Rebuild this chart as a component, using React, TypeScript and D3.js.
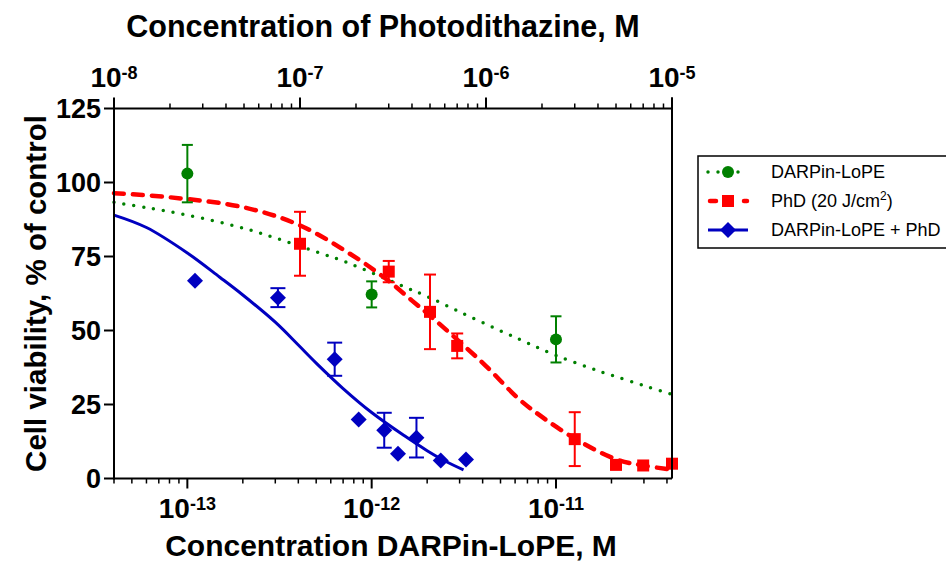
import React from "react";
import * as d3 from "d3";

const W = 946;
const H = 562;
const LEFT = 114;
const RIGHT = 672;
const TOP = 108.5;
const BOTTOM = 478.5;

const FONT = "'Liberation Sans', Arial, Helvetica, sans-serif";

const yTicks = [0, 25, 50, 75, 100, 125];
const topTicks = [1e-8, 1e-7, 1e-6, 1e-5];
const topExp = ["-8", "-7", "-6", "-5"];
const bottomTicks = [1e-13, 1e-12, 1e-11];
const bottomExp = ["-13", "-12", "-11"];

// DARPin-LoPE alone (bottom axis, M)
const lopeConc = [1e-13, 1e-12, 1e-11];
const lopeMean = [103, 62.2, 47];
const lopeErr = [9.7, 4.4, 7.8];

// Photodithazine alone (top axis, M)
const phdConc = [1e-7, 3e-7, 5e-7, 7e-7, 3e-6, 5e-6, 7e-6, 1e-5];
const phdMean = [79.3, 69.9, 56.3, 44.8, 13.3, 4.6, 4.4, 5.0];
const phdErr = [10.8, 3.6, 12.6, 4.2, 9.1, 0, 0, 0];

// DARPin-LoPE + PhD (bottom axis, M)
const comboConc = [1.1e-13, 3.1e-13, 6.3e-13, 8.5e-13, 1.17e-12, 1.39e-12, 1.75e-12, 2.37e-12, 3.25e-12];
const comboMean = [66.8, 61.1, 40.3, 19.9, 16.3, 8.4, 13.8, 6.1, 6.4];
const comboErr = [0, 3.2, 5.6, 0, 5.9, 0, 6.7, 0, 0];

// fitted curves
const lopeFitX = [4e-14, 6e-14, 1e-13, 2e-13, 3e-13, 5e-13, 7e-13, 1e-12, 1.5e-12, 2e-12, 3e-12, 5e-12, 7e-12, 1e-11, 1.5e-11, 2e-11, 3e-11, 4.26e-11];
const lopeFitY = [93.3, 91.5, 89.0, 84.6, 81.3, 76.6, 73.5, 69.5, 64.8, 61.5, 56.3, 49.9, 45.8, 41.6, 37.5, 34.9, 31.4, 28.4];
const phdFitX = [1e-8, 2e-8, 5e-8, 1e-7, 2e-7, 3e-7, 4e-7, 5e-7, 7e-7, 1e-6, 1.5e-6, 2e-6, 3e-6, 5e-6, 7e-6, 1e-5];
const phdFitY = [96.4, 95.0, 91.6, 85.5, 74.6, 66.7, 60.1, 55.0, 46.9, 38.0, 26.9, 20.8, 13.5, 6.5, 4.4, 3.0];
const comboFitX = [4e-14, 6e-14, 1e-13, 1.5e-13, 2e-13, 3e-13, 4e-13, 5e-13, 7e-13, 1e-12, 1.5e-12, 2e-12, 2.5e-12, 3.15e-12];
const comboFitY = [89.0, 84.8, 76.2, 68.0, 62.0, 52.8, 45.1, 39.0, 30.4, 22.3, 14.5, 9.4, 5.9, 2.9];

const GREEN = "#008000";
const RED = "#ff0000";
const BLUE = "#0000c0";

const xBottom = d3.scaleLog().domain([4e-14, 4.26e-11]).range([LEFT, RIGHT]);
const xTop = d3.scaleLog().domain([1e-8, 1e-5]).range([LEFT, RIGHT]);
const y = d3.scaleLinear().domain([0, 125]).range([BOTTOM, TOP]);

const minorTicks = (lo: number, hi: number) => {
  const out: number[] = [];
  for (let e = Math.floor(Math.log10(lo)); e <= Math.ceil(Math.log10(hi)); e++) {
    for (let k = 2; k <= 9; k++) {
      const v = k * Math.pow(10, e);
      if (v >= lo * 0.999 && v <= hi * 1.001) out.push(v);
    }
  }
  return out;
};

const fitPath = (xs: number[], ys: number[], sx: (v: number) => number) =>
  d3.line<number>()
    .x((_, i) => sx(xs[i]))
    .y((d) => y(d))
    .curve(d3.curveCatmullRom.alpha(0.5))(ys) || "";

const diamond = (cx: number, cy: number, r: number) =>
  `M${cx},${cy - r}L${cx + r},${cy}L${cx},${cy + r}L${cx - r},${cy}Z`;

function ErrorBars({ xs, ms, es, sx, color, cap }: any) {
  return (
    <g stroke={color} strokeWidth={2}>
      {xs.map((c: number, i: number) => {
        if (!es[i]) return null;
        const cx = sx(c);
        const y1 = y(ms[i] + es[i]);
        const y2 = y(ms[i] - es[i]);
        return (
          <g key={i}>
            <line x1={cx} x2={cx} y1={y1} y2={y2} />
            <line x1={cx - cap} x2={cx + cap} y1={y1} y2={y1} />
            <line x1={cx - cap} x2={cx + cap} y1={y2} y2={y2} />
          </g>
        );
      })}
    </g>
  );
}

export default function App() {
  const topMinor = minorTicks(1e-8, 1e-5);
  const bottomMinor = minorTicks(4e-14, 4.26e-11);

  return (
    <svg width={W} height={H} style={{ position: "absolute", left: 0, top: 0, background: "#fff" }} fontFamily={FONT}>
      <rect width={W} height={H} fill="#fff" />

      {/* fitted curves */}
      <path d={fitPath(lopeFitX, lopeFitY, xBottom)} fill="none" stroke={GREEN} strokeWidth={3.5}
        strokeDasharray="0 10" strokeLinecap="round" />
      <path d={fitPath(phdFitX, phdFitY, xTop)} fill="none" stroke={RED} strokeWidth={4.5}
        strokeDasharray="10 9" strokeLinecap="round" />
      <path d={fitPath(comboFitX, comboFitY, xBottom)} fill="none" stroke={BLUE} strokeWidth={3} />

      {/* error bars */}
      <ErrorBars xs={lopeConc} ms={lopeMean} es={lopeErr} sx={xBottom} color={GREEN} cap={5.5} />
      <ErrorBars xs={phdConc} ms={phdMean} es={phdErr} sx={xTop} color={RED} cap={6} />
      <ErrorBars xs={comboConc} ms={comboMean} es={comboErr} sx={xBottom} color={BLUE} cap={7.5} />

      {/* markers */}
      {lopeConc.map((c, i) => (
        <circle key={"g" + i} cx={xBottom(c)} cy={y(lopeMean[i])} r={6} fill={GREEN} />
      ))}
      {phdConc.map((c, i) => (
        <rect key={"r" + i} x={xTop(c) - 6} y={y(phdMean[i]) - 6} width={12} height={12} fill={RED} />
      ))}
      {comboConc.map((c, i) => (
        <path key={"b" + i} d={diamond(xBottom(c), y(comboMean[i]), 8)} fill={BLUE} />
      ))}

      {/* frame / axes */}
      <g stroke="#000" strokeWidth={2} fill="none">
        <line x1={LEFT} x2={LEFT} y1={TOP - 10} y2={BOTTOM + 1} />
        <line x1={LEFT} x2={RIGHT} y1={BOTTOM} y2={BOTTOM} />
        <line x1={LEFT} x2={RIGHT} y1={TOP} y2={TOP} />
        <line x1={RIGHT} x2={RIGHT} y1={TOP - 11} y2={BOTTOM} />
      </g>

      {/* left axis */}
      <g>
        {yTicks.map((t) => (
          <g key={t}>
            <line x1={LEFT - 10} x2={LEFT} y1={y(t)} y2={y(t)} stroke="#000" strokeWidth={2} />
            <text x={LEFT - 13} y={y(t) + 9.5} textAnchor="end" fontSize={27} fontWeight="bold">{t}</text>
          </g>
        ))}
      </g>

      {/* top axis */}
      <g>
        {topMinor.map((t, i) => (
          <line key={i} x1={xTop(t)} x2={xTop(t)} y1={TOP} y2={TOP - 5} stroke="#000" strokeWidth={1.5} />
        ))}
        {topTicks.map((t, i) => (
          <g key={t}>
            <line x1={xTop(t)} x2={xTop(t)} y1={TOP} y2={TOP - 11} stroke="#000" strokeWidth={2} />
            <text x={xTop(t)} y={87} textAnchor="middle" fontWeight="bold">
              <tspan fontSize={28}>10</tspan>
              <tspan fontSize={18} dy={-8}>{topExp[i]}</tspan>
            </text>
          </g>
        ))}
      </g>

      {/* bottom axis */}
      <g>
        {bottomMinor.map((t, i) => (
          <line key={i} x1={xBottom(t)} x2={xBottom(t)} y1={BOTTOM} y2={BOTTOM + 5} stroke="#000" strokeWidth={1.5} />
        ))}
        {bottomTicks.map((t, i) => (
          <g key={t}>
            <line x1={xBottom(t)} x2={xBottom(t)} y1={BOTTOM} y2={BOTTOM + 10} stroke="#000" strokeWidth={2} />
            <text x={xBottom(t)} y={518} textAnchor="middle" fontWeight="bold">
              <tspan fontSize={28}>10</tspan>
              <tspan fontSize={18} dy={-8}>{bottomExp[i]}</tspan>
            </text>
          </g>
        ))}
      </g>

      {/* axis titles */}
      <text x={(LEFT + RIGHT) / 2 - 10} y={37} textAnchor="middle" fontSize={30.5} fontWeight="bold">
        Concentration of Photodithazine, M
      </text>
      <text x={(LEFT + RIGHT) / 2 - 2} y={556} textAnchor="middle" fontSize={30} fontWeight="bold">
        Concentration DARPin-LoPE, M
      </text>
      <text transform={`translate(46,${(TOP + BOTTOM) / 2}) rotate(-90)`} textAnchor="middle" fontSize={29.5} fontWeight="bold">
        Cell viability, % of control
      </text>

      {/* legend */}
      <g>
        <rect x={698} y={156} width={300} height={92} fill="#fff" stroke="#000" strokeWidth={1.5} />
        <line x1={708} x2={748} y1={172} y2={172} stroke={GREEN} strokeWidth={3.5} strokeDasharray="0 10" strokeLinecap="round" />
        <circle cx={728} cy={172} r={6} fill={GREEN} />
        <text x={771} y={178} fontSize={18}>DARPin-LoPE</text>

        <line x1={710} x2={747} y1={201} y2={201} stroke={RED} strokeWidth={4.5} strokeDasharray="6 28" strokeLinecap="round" />
        <rect x={722} y={195} width={12} height={12} fill={RED} />
        <text x={771} y={207} fontSize={18}>
          PhD (20 J/cm<tspan fontSize={12} dy={-7}>2</tspan><tspan dy={7}>)</tspan>
        </text>

        <line x1={708} x2={748} y1={230} y2={230} stroke={BLUE} strokeWidth={3} />
        <path d={diamond(728, 230, 8)} fill={BLUE} />
        <text x={771} y={236} fontSize={18}>DARPin-LoPE + PhD</text>
      </g>
    </svg>
  );
}
